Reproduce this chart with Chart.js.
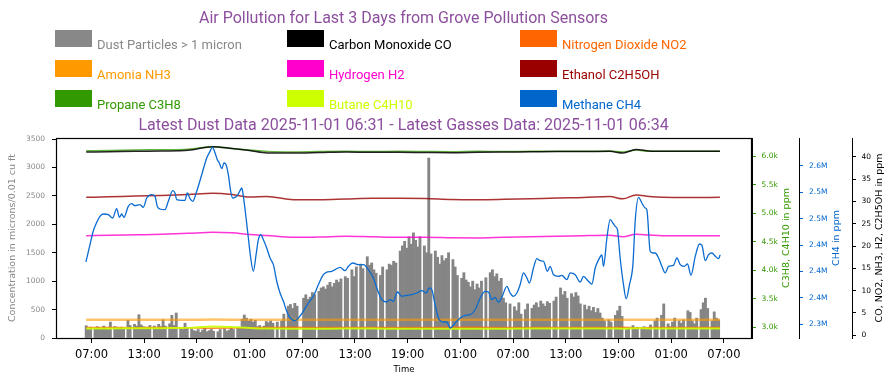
<!DOCTYPE html>
<html><head><meta charset="utf-8">
<script src="https://cdn.jsdelivr.net/npm/chart.js@4.4.1/dist/chart.umd.min.js"></script>
<style>
html,body{margin:0;padding:0;background:#fff;width:896px;height:385px;overflow:hidden;font-family:Roboto,sans-serif;}
#wrap{position:absolute;left:0;top:0;width:896px;height:385px;}
canvas{position:absolute;left:0;top:0;}
.t{position:absolute;left:0;width:807px;text-align:center;color:#8c4f9d;font-size:16px;line-height:20px;white-space:nowrap;}
.box{position:absolute;width:37px;height:17px;}
.lab{position:absolute;font-size:13px;line-height:15px;white-space:nowrap;}
</style></head>
<body>
<div id="wrap"><canvas id="c" width="896" height="385"></canvas>
<div class="t" id="title" style="top:8px"></div>
<div id="legend"></div>
<div class="t" id="subtitle" style="top:115px"></div>
</div>
<script>
const TITLE = 'Air Pollution for Last 3 Days from Grove Pollution Sensors';
const SUBTITLE = 'Latest Dust Data 2025-11-01 06:31 - Latest Gasses Data: 2025-11-01 06:34';
const SERIES = ['Dust Particles > 1 micron','Carbon Monoxide CO','Nitrogen Dioxide NO2','Amonia NH3','Hydrogen H2','Ethanol C2H5OH','Propane C3H8','Butane C4H10','Methane CH4'];
const COLORS = ['#888888','#000000','#ff6600','#ff9900','#ff00cc','#990000','#339900','#ccff00','#0066cc'];

// x axis: hours since 2025-10-29 00:00
const X_TICKS = [7,13,19,25,31,37,43,49,55,61,67,73,79];
const X_TICK_LABELS = ['07:00','13:00','19:00','01:00','07:00','13:00','19:00','01:00','07:00','13:00','19:00','01:00','07:00'];
const DUST_TICKS = [0,500,1000,1500,2000,2500,3000,3500];
const GAS_TICKS = [3000,3500,4000,4500,5000,5500,6000];
const GAS_TICK_LABELS = ['3.0k','3.5k','4.0k','4.5k','5.0k','5.5k','6.0k'];
const CH4_TICKS = [2.30,2.35,2.40,2.45,2.50,2.55,2.60];
const CH4_TICK_LABELS = ['2.3M','2.4M','2.4M','2.4M','2.5M','2.5M','2.6M'];
const PPM_TICKS = [0,5,10,15,20,25,30,35,40];

// dust: one reading every 15 minutes starting 06:24 on day 1
const DUST_START = 6.4, DUST_STEP = 0.25;
const DUST = [
216,150,190,null,170,200,180,160,210,180,150,280,
null,200,190,170,190,160,null,310,220,null,240,210,
410,230,200,190,190,220,null,210,180,240,200,320,
210,null,250,400,220,440,null,170,150,260,180,null,
160,130,120,150,100,140,170,110,130,150,120,null,
110,150,null,160,120,140,180,150,null,170,190,330,
405,350,300,330,280,310,200,220,180,210,290,270,
300,260,null,280,null,300,420,null,560,590,520,610,
560,null,null,700,760,680,720,800,760,null,820,880,
900,860,930,980,900,960,1020,980,1040,null,1080,1050,
null,1200,1080,1250,null,1300,1220,null,1430,1280,1320,1200,
1140,null,1100,1250,null,1200,1300,1280,1350,1320,null,1530,
1620,1700,1580,1780,1650,1850,1720,1600,1780,null,1620,1500,
3166,1480,null,1530,1420,1300,1450,1360,1400,1500,null,1380,
1250,1100,null,1050,1150,1020,980,900,1000,850,950,880,
1000,null,1060,null,1150,1200,1080,1130,1000,1050,700,620,
null,600,null,550,480,620,420,null,500,600,null,520,
580,620,540,650,600,560,640,610,null,650,720,null,
880,760,820,700,null,780,720,800,740,600,null,580,
500,560,480,540,450,520,440,350,300,null,320,280,
null,400,480,560,380,null,150,180,null,220,160,190,
null,170,200,150,180,230,null,300,350,null,400,600,
null,250,200,280,350,null,300,260,320,null,480,450,
300,250,350,null,500,620,700,520,null,300,460,350,320];

const GAS_HOURS = [6.4,9,12,15,18,20.8,23,25,27,30,33,36,39,42,45,48,51,54,57,60,63,66,67.5,69,70.5,72,75,78.55];
const CO = [41.05,41.12,41.21,41.28,41.43,42.24,41.84,41.39,40.83,40.83,40.94,41.05,40.99,40.99,40.94,40.90,40.99,41.05,41.10,41.16,41.16,41.21,40.83,41.61,41.28,41.21,41.21,41.21];
const NO2 = [1.75,1.74,1.72,1.73,1.70,1.58,1.62,1.72,1.76,1.78,1.77,1.76,1.76,1.77,1.77,1.78,1.78,1.77,1.76,1.76,1.75,1.74,1.78,1.70,1.74,1.75,1.75,1.75];
const NH3 = [3.49,3.49,3.50,3.50,3.49,3.52,3.51,3.49,3.48,3.48,3.49,3.49,3.48,3.49,3.49,3.48,3.48,3.49,3.49,3.49,3.50,3.50,3.48,3.51,3.49,3.49,3.49,3.49];
const H2 = [22.31,22.40,22.51,22.62,22.84,23.07,22.96,22.58,22.35,21.95,22.02,22.17,22.06,21.95,21.95,21.84,21.79,21.95,22.08,22.17,22.31,22.40,22.06,22.64,22.46,22.31,22.31,22.31];
const ETHANOL = [30.91,31.02,31.20,31.31,31.53,31.80,31.53,30.97,31.09,30.37,30.37,30.53,30.68,30.68,30.64,30.41,30.37,30.46,30.59,30.75,30.86,31.09,30.57,31.42,31.09,30.91,30.86,30.91];
const PROPANE = [6099,6104,6112,6117,6126,6170,6138,6112,6085,6077,6085,6089,6085,6089,6085,6082,6089,6085,6089,6091,6089,6094,6077,6112,6089,6089,6089,6089];
const BUTANE = [2975,2976,2978,2980,2985,3008,3002,2982,2972,2970,2971,2972,2972,2971,2971,2970,2970,2971,2972,2973,2974,2975,2970,2980,2975,2974,2974,2974];

const CH4_HOURS = [6.37,6.83,7.14,7.40,7.97,8.34,8.91,9.41,9.87,10.17,
10.44,10.70,11.19,11.58,11.95,12.52,12.90,13.29,13.86,14.23,
14.49,14.80,15.37,15.75,16.25,16.51,16.70,17.27,17.65,17.91,
18.22,18.53,18.98,19.55,20.12,20.50,20.78,21.07,21.33,21.56,
21.83,22.09,22.32,22.58,22.85,23.08,23.34,23.61,23.91,24.11,
24.29,24.60,24.86,25.13,25.43,25.74,26.00,26.27,26.57,26.95,
27.33,27.71,28.09,28.47,28.85,29.23,29.61,30.18,30.55,31.12,
31.69,32.26,32.83,33.40,33.79,34.36,34.73,35.30,35.87,36.25,
36.75,37.39,37.96,38.53,39.10,39.48,40.05,40.62,41.00,41.37,
41.83,42.33,42.90,43.47,44.04,44.61,45.10,45.47,45.75,46.12,
46.50,47.07,47.46,47.83,48.40,48.97,49.54,50.11,50.68,51.25,
51.82,52.19,52.58,52.96,53.33,53.72,54.29,54.67,55.04,55.43,
55.80,56.18,56.57,56.86,57.32,57.71,58.08,58.46,58.91,59.22,
59.60,60.17,60.55,61.12,61.50,62.07,62.64,63.01,63.58,63.97,
64.35,64.72,65.11,65.29,65.68,66.05,66.36,66.62,66.88,67.19,
67.57,67.88,68.25,68.64,68.90,69.28,69.66,70.04,70.23,70.61,
70.92,71.18,71.56,71.94,72.32,72.70,73.26,73.65,74.03,74.48,
74.86,75.25,75.74,76.23,76.50,76.88,77.25,77.64,78.02,78.39,
78.58];
// methane in millions of ppm
const CH4 = [2.4179,2.4506,2.4727,2.4854,2.5043,2.5086,2.5073,2.5011,2.5187,2.5024,
2.5086,2.5024,2.5232,2.5281,2.5243,2.5262,2.5213,2.5389,2.5452,2.5421,
2.5232,2.5181,2.5168,2.5327,2.5527,2.5484,2.5357,2.5346,2.5346,2.5484,
2.5376,2.5327,2.5516,2.5830,2.6146,2.6272,2.6348,2.6240,2.6113,2.6051,
2.5943,2.6051,2.6019,2.5830,2.5516,2.5389,2.5402,2.5440,2.5527,2.5578,
2.5421,2.5011,2.4633,2.4254,2.4003,2.4317,2.4600,2.4695,2.4600,2.4443,
2.4254,2.4128,2.3814,2.3592,2.3435,2.3246,2.3119,2.3068,2.3119,2.3246,
2.3403,2.3530,2.3749,2.3938,2.3989,2.4003,2.4033,2.4078,2.4014,2.4097,
2.4160,2.4128,2.4128,2.4033,2.3876,2.3687,2.3466,2.3422,2.3466,2.3435,
2.3611,2.3530,2.3549,2.3560,2.3592,2.3636,2.3592,2.3687,2.3655,2.3371,
2.3119,2.3044,2.3044,2.2930,2.3025,2.3119,2.3170,2.3182,2.3276,2.3498,
2.3624,2.3611,2.3466,2.3511,2.3416,2.3511,2.3719,2.3592,2.3530,2.3592,
2.3749,2.3971,2.3876,2.3781,2.4065,2.4241,2.4203,2.4192,2.4003,2.4097,
2.3938,2.3908,2.3927,2.3844,2.3971,2.3938,2.3800,2.3908,2.3814,2.3762,
2.4065,2.4216,2.4311,2.4097,2.4633,2.4979,2.4916,2.4854,2.4790,2.4254,
2.3749,2.3484,2.3749,2.4128,2.4948,2.5402,2.5295,2.5200,2.5168,2.4381,
2.4349,2.4349,2.4254,2.4097,2.3971,2.4097,2.4116,2.4254,2.4128,2.4097,
2.4141,2.3927,2.4286,2.4519,2.4494,2.4203,2.4317,2.4349,2.4286,2.4241,
2.4317];

const AXIS_TITLES = {y:'Concentration in microns/0.01 cu ft', yg:'C3H8, C4H10 in ppm', ym:'CH4 in ppm', yp:'CO, NO2, NH3, H2, C2H5OH in ppm', x:'Time'};

// ---- header / legend (HTML text) ----
document.getElementById('title').textContent = TITLE;
document.getElementById('subtitle').textContent = SUBTITLE;
const legendEl = document.getElementById('legend');
const COLX = [55,287,520], ROWY = [30,60,90];
SERIES.forEach((name, i) => {
  const c = i % 3, r = Math.floor(i / 3);
  const b = document.createElement('div');
  b.className = 'box'; b.style.left = COLX[c] + 'px'; b.style.top = ROWY[r] + 'px'; b.style.background = COLORS[i];
  const t = document.createElement('div');
  t.className = 'lab'; t.style.left = (COLX[c] + 42) + 'px'; t.style.top = (ROWY[r] + 7) + 'px'; t.style.color = COLORS[i];
  t.textContent = name;
  legendEl.appendChild(b); legendEl.appendChild(t);
});

const FONT = "'DejaVu Sans', sans-serif";
const pts = (xs, ys) => ys.map((v, i) => ({x: xs[i], y: v}));
const dustPts = DUST.map((v, i) => ({x: DUST_START + i * DUST_STEP, y: v}));

function setTicks(list){ return s => { s.ticks = list.map(v => ({value: v})); }; }

const lineDs = (label, data, color, axis, width, order) => ({
  type: 'line', label, data, borderColor: color, borderWidth: width, yAxisID: axis,
  pointRadius: 0, fill: false, cubicInterpolationMode: 'monotone', order
});

const frame = {
  id: 'frame',
  afterDatasetsDraw(chart) {
    const {ctx, chartArea: a} = chart;
    ctx.save(); ctx.strokeStyle = '#000'; ctx.lineWidth = 1.2;
    ctx.strokeRect(Math.round(a.left) + 0.5, Math.round(a.top) + 0.5, Math.round(a.right - a.left) - 1, Math.round(a.bottom - a.top));
    ctx.restore();
  },
  afterDraw(chart) {
    const {ctx, chartArea: a} = chart;
    const cy = (a.top + a.bottom) / 2;
    const items = [['yg', 34.7, '#339900'], ['ym', 37.7, '#0066cc'], ['yp', 28, '#000000']];
    ctx.save();
    ctx.font = '9.5px ' + FONT; ctx.textAlign = 'center'; ctx.textBaseline = 'middle';
    items.forEach(([id, off, col]) => {
      const s = chart.scales[id];
      ctx.save(); ctx.translate(s.left + off, cy); ctx.rotate(-Math.PI / 2);
      ctx.fillStyle = col; ctx.fillText(AXIS_TITLES[id], 0, 0); ctx.restore();
    });
    ctx.restore();
  }
};

new Chart(document.getElementById('c'), {
  type: 'line',
  data: {
    datasets: [
      lineDs(SERIES[8], pts(CH4_HOURS, CH4), '#0a6bd0', 'ym', 1.3, 1),
      lineDs(SERIES[1], pts(GAS_HOURS, CO), 'rgba(0,0,0,0.85)', 'yp', 1.5, 2),
      lineDs(SERIES[6], pts(GAS_HOURS, PROPANE), 'rgba(51,153,0,0.75)', 'yg', 1.5, 2),
      lineDs(SERIES[5], pts(GAS_HOURS, ETHANOL), 'rgba(153,0,0,0.8)', 'yp', 1.5, 2),
      lineDs(SERIES[4], pts(GAS_HOURS, H2), 'rgba(255,0,204,0.8)', 'yp', 1.5, 2),
      lineDs(SERIES[7], pts(GAS_HOURS, BUTANE), 'rgba(204,255,0,0.9)', 'yg', 2, 2),
      lineDs(SERIES[2], pts(GAS_HOURS, NO2), 'rgba(255,102,0,0.8)', 'yp', 1.5, 3),
      lineDs(SERIES[3], pts(GAS_HOURS, NH3), 'rgba(255,153,0,0.6)', 'yp', 2.5, 2),
      { type: 'bar', label: SERIES[0], data: dustPts, backgroundColor: '#858585', borderWidth: 0,
        barThickness: 2.2, yAxisID: 'y', order: 10 }
    ]
  },
  options: {
    responsive: false, animation: false, devicePixelRatio: 1,
    layout: { padding: { top: 138, left: 0, right: 0, bottom: 0 } },
    plugins: { legend: { display: false }, tooltip: { enabled: false }, title: { display: false } },
    scales: {
      x: {
        type: 'linear', min: 2.96, max: 82.2, offset: false,
        afterBuildTicks: setTicks(X_TICKS), afterFit: s => { s.height = 47; },
        ticks: { color: '#000', font: { family: FONT, size: 11.5 }, padding: 5, autoSkip: false, maxRotation: 0,
                 callback: (v, i) => X_TICK_LABELS[i] },
        grid: { display: true, drawOnChartArea: false, drawTicks: true, tickLength: 5, tickColor: '#000', color: '#000', offset: false },
        border: { display: true, color: '#000' },
        title: { display: true, text: AXIS_TITLES.x, color: '#000', font: { family: FONT, size: 8.5 }, padding: { top: 0, bottom: 10 } }
      },
      y: {
        position: 'left', min: 0, max: 3518,
        afterBuildTicks: setTicks(DUST_TICKS), afterFit: s => { s.width = 56; },
        ticks: { color: '#888', font: { family: FONT, size: 7.5 }, padding: 7, callback: v => String(v) },
        grid: { display: true, drawOnChartArea: false, drawTicks: true, tickLength: 4, tickColor: '#000', color: '#000' },
        border: { display: true, color: '#000' },
        title: { display: true, text: AXIS_TITLES.y, color: '#888', font: { family: FONT, size: 9.5 }, padding: { top: 6.5, bottom: 0 } }
      },
      yg: {
        position: 'right', min: 2807, max: 6323,
        afterBuildTicks: setTicks(GAS_TICKS), afterFit: s => { s.width = 47; },
        ticks: { color: '#339900', font: { family: FONT, size: 7.5 }, padding: 5.5, callback: (v, i) => GAS_TICK_LABELS[i] },
        grid: { display: true, drawOnChartArea: false, drawTicks: true, tickLength: 4, tickColor: '#339900', color: '#339900' },
        border: { display: true, color: '#000' },
        title: { display: false, text: AXIS_TITLES.yg }
      },
      ym: {
        position: 'right', min: 2.2741, max: 2.6524,
        afterBuildTicks: setTicks(CH4_TICKS), afterFit: s => { s.width = 53; },
        ticks: { color: '#0066cc', font: { family: FONT, size: 7.5 }, padding: 6, callback: (v, i) => CH4_TICK_LABELS[i] },
        grid: { display: true, drawOnChartArea: false, drawTicks: true, tickLength: 4, tickColor: '#0066cc', color: '#0066cc' },
        border: { display: true, color: '#000' },
        title: { display: false, text: AXIS_TITLES.ym }
      },
      yp: {
        position: 'right', min: -0.6, max: 44.19,
        afterBuildTicks: setTicks(PPM_TICKS), afterFit: s => { s.width = 44; },
        ticks: { color: '#000', font: { family: FONT, size: 7.5 }, padding: 5.5, callback: v => String(v) },
        grid: { display: true, drawOnChartArea: false, drawTicks: true, tickLength: 4, tickColor: '#000', color: '#000' },
        border: { display: true, color: '#000' },
        title: { display: false, text: AXIS_TITLES.yp }
      }
    }
  },
  plugins: [frame]
});
</script>
</body></html>
